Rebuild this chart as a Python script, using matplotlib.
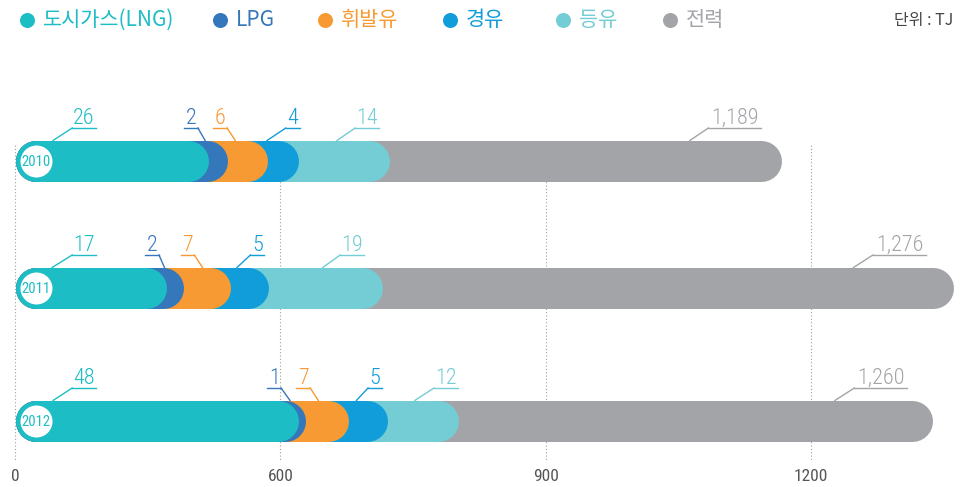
import numpy as np
import matplotlib
matplotlib.use("Agg")
import matplotlib.pyplot as plt

# ---- data ----
years = ["2010", "2011", "2012"]
fuels = ["도시가스(LNG)", "LPG", "휘발유", "경유", "등유", "전력"]
colors = ["#1dbdc6", "#3577bb", "#f79a33", "#119dd9", "#74ccd4", "#a3a4a8"]

# numbers printed on the chart (TJ)
values_2010 = ["26", "2", "6", "4", "14", "1,189"]
values_2011 = ["17", "2", "7", "5", "19", "1,276"]
values_2012 = ["48", "1", "7", "5", "12", "1,260"]

# drawn segment lengths in axis units (the infographic is not to scale)
seg_2010 = [219, 21, 46, 35, 102, 444]
seg_2011 = [171, 20, 53, 43, 129, 645]
seg_2012 = [321, 8, 48, 44, 80, 536]

# label placement: (number x, where the leader touches the bar)
lab_2010 = [(78, 43), (199, 215), (232, 249), (314, 285), (398, 364), (814, 763)]
lab_2011 = [(78, 42), (155, 169), (195, 212), (274, 251), (381, 348), (1000, 948)]
lab_2012 = [(78, 43), (293, 311), (326, 343), (407, 386), (487, 452), (979, 927)]

tick_pos = [0, 300, 600, 900]
tick_labels = ["0", "600", "900", "1200"]

values = [values_2010, values_2011, values_2012]
segs = [seg_2010, seg_2011, seg_2012]
labs = [lab_2010, lab_2011, lab_2012]

# ---- layout (pixels of a 968x487 canvas) ----
W, H = 968, 487
k = 300 / 265.33          # axis units per pixel
row_y = [161, 288, 421]   # row centres
bar_px = 41
r = bar_px / 2 * k

num_font = ["Roboto Condensed", "DejaVu Sans"]
kr_font = ["Noto Sans CJK KR", "DejaVu Sans"]


def u(px):
    return (px - 15) * k


fig = plt.figure(figsize=(W / 100, H / 100), dpi=100)
ax = fig.add_axes([0, (H - 462) / H, 1, 462 / H])
ax.set_xlim(u(0), u(W))
ax.set_ylim(462, 0)
for s in ax.spines.values():
    s.set_visible(False)
ax.set_yticks([])
ax.set_xticks(tick_pos, tick_labels)
ax.tick_params(axis="x", length=0, pad=5, labelsize=12.5, labelcolor="#555555")
for t in ax.get_xticklabels():
    t.set_family(num_font)

# dotted guides
ax.vlines(tick_pos, 145, 462, colors="#a0a0a0", linestyles=(0, (1, 2)), lw=0.8, zorder=1)

lw = bar_px * 0.72
for i, y in enumerate(row_y):
    ends = np.cumsum(segs[i])
    for j in reversed(range(len(fuels))):
        ax.plot([r, ends[j] - r], [y, y], color=colors[j], lw=lw,
                solid_capstyle="round", zorder=2)
    # year badge
    ax.scatter([r + 0.5 * k], [y], s=(32 * 0.72) ** 2, color="white", linewidths=0, zorder=5)
    ax.text(r + 0.5 * k, y + 1, years[i], ha="center", va="center", fontsize=10.5,
            color=colors[0], family=num_font, zorder=6)

    # value labels with leaders
    top = y - bar_px / 2
    ul = y - 33
    for j, (tx, ax_x) in enumerate(labs[i]):
        txt = values[i][j]
        c = colors[j]
        half = (4 + 9.8 * len(txt)) / 2 * k
        x0, x1 = tx - half, tx + half
        near = x0 if ax_x < tx else x1
        ax.plot([x0, x1], [ul, ul], color=c, lw=1.0, zorder=3)
        ax.plot([ax_x, near], [top, ul], color=c, lw=1.0, zorder=3)
        ax.text(tx, ul - 4, txt, ha="center", va="baseline", fontsize=16,
                fontweight="light", color=c, family=num_font, zorder=3)

# legend
leg_marker_px = [27, 220, 325, 450, 563, 670]
for j, name in enumerate(fuels):
    ax.scatter([u(leg_marker_px[j])], [20], s=(15 * 0.72) ** 2, color=colors[j],
               linewidths=0, clip_on=False, zorder=5)
    ax.text(u(leg_marker_px[j] + 16), 20, name, ha="left", va="center", fontsize=15,
            fontweight="light", color=colors[j], family=kr_font)

ax.text(u(953), 20, "단위 : TJ", ha="right", va="center", fontsize=11.5,
        color="#444444", family=kr_font)

fig.savefig("out.png", dpi=100)
